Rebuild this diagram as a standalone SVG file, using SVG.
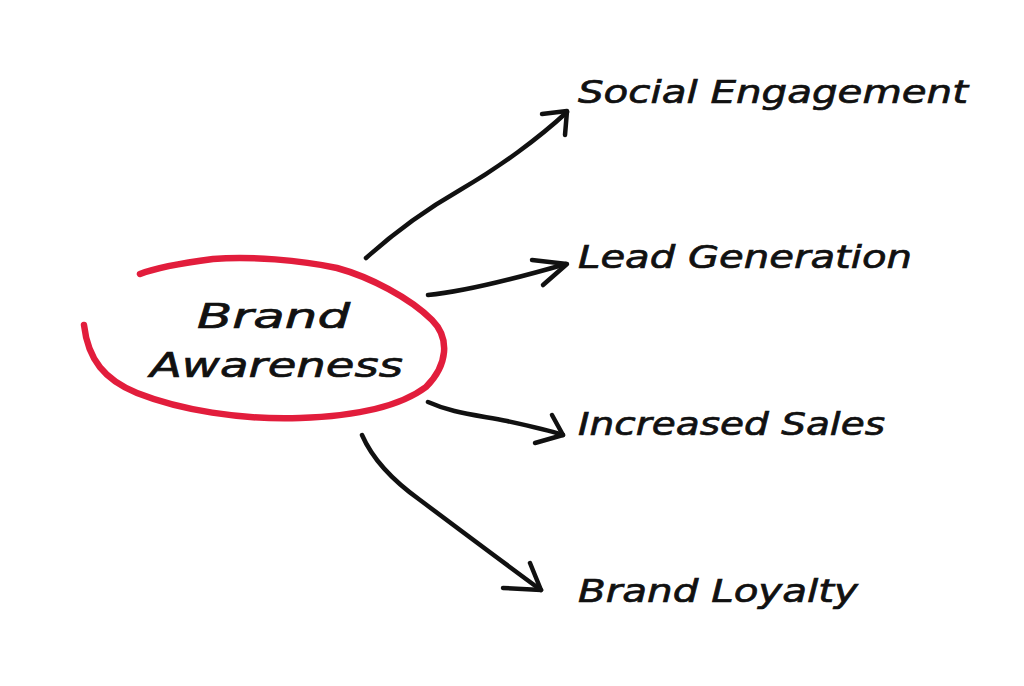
<svg xmlns="http://www.w3.org/2000/svg" width="1024" height="686" viewBox="0 0 1024 686">
<style>
.lbl{font-family:"DejaVu Sans","Liberation Sans",sans-serif;font-style:italic;fill:#111;stroke:#111;stroke-width:0.7;}
.arr{fill:none;stroke:#111;stroke-width:4.5;stroke-linecap:round;stroke-linejoin:round;}
.ring{fill:none;stroke:#e21d3c;stroke-width:6.5;stroke-linecap:round;stroke-linejoin:round;}
</style>
<rect width="1024" height="686" fill="#fff"/>
<g id="center">
<path class="ring" d="M140,274 C160,266 190,262 213,259 C250,256 300,260 337,268 C370,277 410,298 432,320 C450,338 448,365 426,387 C402,405 360,416 300,418 C240,420 180,410 137,393 C105,380 88,360 84,325"/>
<text class="lbl" x="197" y="328" font-size="34" textLength="153" lengthAdjust="spacingAndGlyphs">Brand</text>
<text class="lbl" x="150" y="377" font-size="34" textLength="253" lengthAdjust="spacingAndGlyphs">Awareness</text>
</g>
<g id="connectors">
<path class="arr" d="M366,258 C395,232 425,210 460,190 C500,167 540,137 567,112"/>
<path class="arr" d="M542,114 L567,111 L565,135"/>
<path class="arr" d="M428,295 C460,292 500,283 566,264"/>
<path class="arr" d="M532,260 L567,264 L543,285"/>
<path class="arr" d="M428,402 C450,412 470,414 507,421 C530,426 548,430 563,435"/>
<path class="arr" d="M552,415 L563,435 L535,443"/>
<path class="arr" d="M362,435 C372,458 392,480 420,500 C460,530 500,560 541,590"/>
<path class="arr" d="M530,563 L541,590 L503,588"/>
</g>
<g id="social"><text class="lbl" x="578" y="103" font-size="32" textLength="390" lengthAdjust="spacingAndGlyphs">Social  Engagement</text></g>
<g id="lead"><text class="lbl" x="578" y="268" font-size="32" textLength="334" lengthAdjust="spacingAndGlyphs">Lead Generation</text></g>
<g id="sales"><text class="lbl" x="578" y="435" font-size="32" textLength="307" lengthAdjust="spacingAndGlyphs">Increased Sales</text></g>
<g id="loyalty"><text class="lbl" x="578" y="602" font-size="32" textLength="280" lengthAdjust="spacingAndGlyphs">Brand Loyalty</text></g>
</svg>
